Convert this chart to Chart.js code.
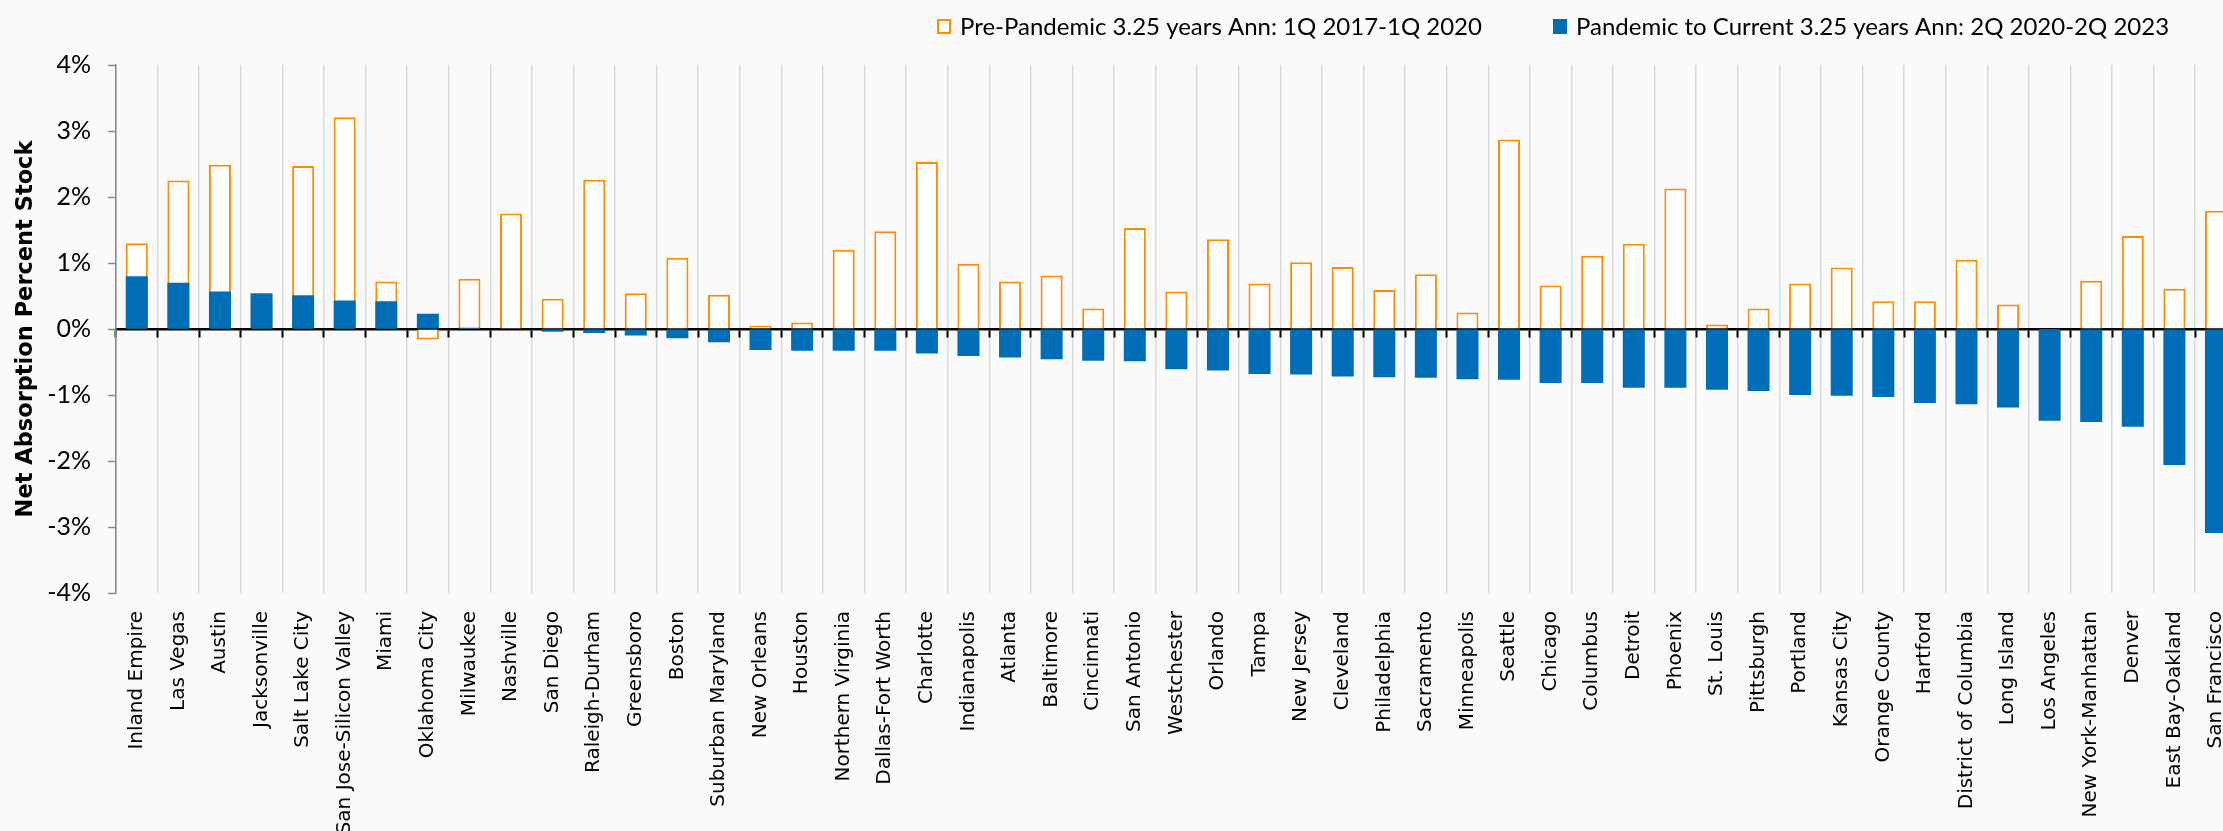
<!DOCTYPE html>
<html>
<head>
<meta charset="utf-8">
<title>Net Absorption Percent Stock</title>
<script src="https://cdn.jsdelivr.net/npm/chart.js@4.4.0/dist/chart.umd.min.js"></script>
<style>
    html, body { margin: 0; padding: 0; background: #fafafa; overflow: hidden; }
    #wrap { position: relative; width: 2258px; height: 831px; }
</style>
</head>
<body>
<div id="wrap"><canvas id="absorption-chart"></canvas></div>
<script>
// Office markets, sorted by pandemic-era absorption
const markets = [
    'Inland Empire', 'Las Vegas', 'Austin', 'Jacksonville', 'Salt Lake City',
    'San Jose-Silicon Valley', 'Miami', 'Oklahoma City', 'Milwaukee', 'Nashville',
    'San Diego', 'Raleigh-Durham', 'Greensboro', 'Boston', 'Suburban Maryland',
    'New Orleans', 'Houston', 'Northern Virginia', 'Dallas-Fort Worth', 'Charlotte',
    'Indianapolis', 'Atlanta', 'Baltimore', 'Cincinnati', 'San Antonio',
    'Westchester', 'Orlando', 'Tampa', 'New Jersey', 'Cleveland',
    'Philadelphia', 'Sacramento', 'Minneapolis', 'Seattle', 'Chicago',
    'Columbus', 'Detroit', 'Phoenix', 'St. Louis', 'Pittsburgh',
    'Portland', 'Kansas City', 'Orange County', 'Hartford', 'District of Columbia',
    'Long Island', 'Los Angeles', 'New York-Manhattan', 'Denver', 'East Bay-Oakland',
    'San Francisco'
];

// Pre-Pandemic 3.25 years annualized (1Q 2017-1Q 2020), % of stock
const prePandemic = [
    1.30, 2.25, 2.49, 0.39, 2.47,
    3.21, 0.72, -0.16, 0.76, 1.75,
    0.46, 2.26, 0.54, 1.08, 0.52,
    0.05, 0.10, 1.20, 1.48, 2.53,
    0.99, 0.72, 0.81, 0.31, 1.53,
    0.57, 1.36, 0.69, 1.01, 0.94,
    0.59, 0.83, 0.25, 2.87, 0.66,
    1.11, 1.29, 2.13, 0.07, 0.31,
    0.69, 0.93, 0.42, 0.42, 1.05,
    0.37, -0.02, 0.73, 1.41, 0.61,
    1.79
];

// Pandemic to current 3.25 years annualized (2Q 2020-2Q 2023), % of stock
const pandemic = [
    0.80, 0.70, 0.57, 0.54, 0.51,
    0.43, 0.42, 0.23, 0.02, 0.00,
    -0.04, -0.06, -0.10, -0.14, -0.20,
    -0.32, -0.33, -0.33, -0.33, -0.37,
    -0.41, -0.43, -0.46, -0.48, -0.49,
    -0.61, -0.63, -0.68, -0.69, -0.72,
    -0.73, -0.74, -0.76, -0.77, -0.82,
    -0.82, -0.89, -0.89, -0.92, -0.94,
    -1.00, -1.01, -1.03, -1.12, -1.14,
    -1.19, -1.39, -1.41, -1.48, -2.06,
    -3.09
];

const seriesLabels = [
    'Pre-Pandemic 3.25 years Ann: 1Q 2017-1Q 2020',
    'Pandemic to Current 3.25 years Ann: 2Q 2020-2Q 2023'
];

const yTickValues = [-4, -3, -2, -1, 0, 1, 2, 3, 4];

const colors = {
    orange: '#ff8c00',
    orangeFill: '#fdfdfd',
    blue: '#006eb6',
    grid: '#d9d9d9',
    axis: '#888888',
    text: '#000000'
};

const tickFont = "Lato, 'Liberation Sans Narrow', sans-serif";
const labelFont = "'DejaVu Sans', Verdana, sans-serif";

// Legend drawn by hand: the two entries sit far apart in the top right corner
const cornerLegend = {
    id: 'cornerLegend',
    afterDraw(chart, args, opts) {
        const ctx = chart.ctx;
        ctx.save();
        ctx.font = `${opts.fontSize}px ${tickFont}`;
        ctx.textBaseline = 'middle';
        ctx.textAlign = 'left';
        chart.data.datasets.forEach((ds, i) => {
            const x = opts.x[i];
            const top = opts.y - opts.boxHeight / 2;
            ctx.fillStyle = ds.backgroundColor;
            ctx.fillRect(x, top, opts.boxWidth, opts.boxHeight);
            if (ds.borderWidth) {
                ctx.strokeStyle = ds.borderColor;
                ctx.lineWidth = 2;
                ctx.strokeRect(x + 1, top + 1, opts.boxWidth - 2, opts.boxHeight - 2);
            }
            ctx.fillStyle = colors.text;
            ctx.fillText(ds.label, x + opts.boxWidth + opts.gap, opts.y + 1);
        });
        ctx.restore();
    }
};

document.addEventListener('DOMContentLoaded', () => {
    const ctx = document.getElementById('absorption-chart');

    new Chart(ctx, {
        type: 'bar',
        data: {
            labels: markets,
            datasets: [
                {
                    label: seriesLabels[0],
                    data: prePandemic,
                    backgroundColor: colors.orangeFill,
                    borderColor: colors.orange,
                    borderWidth: 2,
                    order: 2
                },
                {
                    label: seriesLabels[1],
                    data: pandemic,
                    backgroundColor: colors.blue,
                    borderWidth: 0,
                    order: 1
                }
            ]
        },
        options: {
            responsive: true,
            maintainAspectRatio: false,
            animation: false,
            grouped: false,
            barPercentage: 0.53,
            categoryPercentage: 1,
            layout: {
                padding: { top: 65, right: 3, left: 0, bottom: 0 }
            },
            plugins: {
                legend: { display: false },
                tooltip: { enabled: false },
                cornerLegend: {
                    x: [937, 1553],
                    y: 26.5,
                    boxWidth: 14,
                    boxHeight: 15,
                    gap: 9,
                    fontSize: 24
                }
            },
            scales: {
                x: {
                    type: 'category',
                    offset: true,
                    grid: {
                        offset: true,
                        color: colors.grid,
                        lineWidth: 1.5,
                        drawTicks: false
                    },
                    border: { display: false },
                    ticks: {
                        autoSkip: false,
                        minRotation: 90,
                        maxRotation: 90,
                        padding: 18,
                        color: colors.text,
                        font: { family: labelFont, size: 20 }
                    },
                    afterFit: (scale) => { scale.height = 238; }
                },
                // zero line with its small tick marks, drawn over the bars
                x0: {
                    axis: 'x',
                    type: 'category',
                    position: { y: 0 },
                    offset: true,
                    z: 1,
                    grid: {
                        offset: true,
                        drawOnChartArea: false,
                        drawTicks: true,
                        tickLength: 7,
                        tickWidth: 2,
                        tickColor: colors.text
                    },
                    border: { display: true, color: colors.text, width: 2.5 },
                    ticks: { display: false }
                },
                y: {
                    min: yTickValues[0],
                    max: yTickValues[yTickValues.length - 1],
                    afterBuildTicks: (scale) => {
                        scale.ticks = yTickValues.map(v => ({ value: v }));
                    },
                    grid: {
                        drawOnChartArea: false,
                        drawTicks: true,
                        tickLength: 8,
                        tickWidth: 1.5,
                        tickColor: colors.axis
                    },
                    border: { color: colors.axis, width: 1.5 },
                    ticks: {
                        padding: 17,
                        color: colors.text,
                        font: { family: tickFont, size: 25 },
                        callback: (value) => value + '%'
                    },
                    title: {
                        display: true,
                        text: 'Net Absorption Percent Stock',
                        color: colors.text,
                        padding: { top: 13, bottom: 0 },
                        font: { family: labelFont, size: 22.5, weight: 'bold' }
                    },
                    afterFit: (scale) => { scale.width = 116; }
                }
            }
        },
        plugins: [cornerLegend]
    });
});
</script>
</body>
</html>
